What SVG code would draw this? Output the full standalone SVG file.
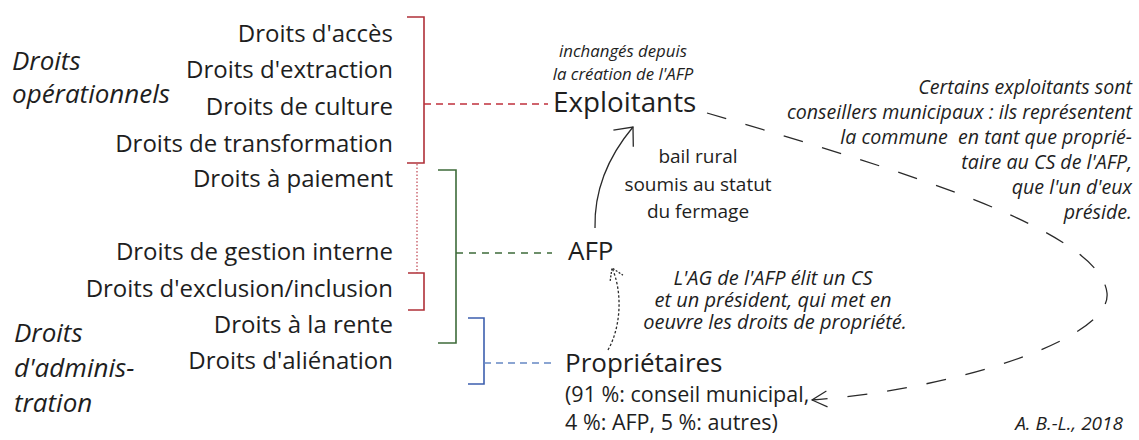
<svg xmlns="http://www.w3.org/2000/svg" width="1139" height="440" viewBox="0 0 1139 440">
<style>
text{font-family:"Open Sans","Noto Sans","Liberation Sans",sans-serif;fill:#1e1e1e}
.r{font-size:24px;text-anchor:end}
.cat{font-size:26px;font-style:italic}
.node{font-size:26px}
.note{font-style:italic;font-size:19.6px}
.mid{text-anchor:middle}
.end{text-anchor:end}
.brR{fill:none;stroke:#b03038;stroke-width:1.6}
.brG{fill:none;stroke:#3e6b3a;stroke-width:1.6}
.brB{fill:none;stroke:#3d5fae;stroke-width:1.6}
.arrow{fill:none;stroke:#2a2a2a;stroke-width:1.3}
</style>
<defs>
<marker id="vSolid" viewBox="-20 -16 24 32" refX="0" refY="0" markerWidth="24" markerHeight="32" orient="auto" markerUnits="userSpaceOnUse">
<path d="M-15,-13 L0,0 L-15,13" fill="none" stroke="#2a2a2a" stroke-width="1.3"/>
</marker>
<marker id="vDot" viewBox="-16 -12 20 24" refX="0" refY="0" markerWidth="20" markerHeight="24" orient="auto" markerUnits="userSpaceOnUse">
<path d="M-11,-7 L0,0 L-11,7" fill="none" stroke="#2a2a2a" stroke-width="1.3" stroke-dasharray="2 1.5"/>
</marker>
<marker id="vDash" viewBox="-20 -12 24 24" refX="0" refY="0" markerWidth="24" markerHeight="24" orient="auto" markerUnits="userSpaceOnUse">
<path d="M-15,-8 L0,0 L-15,8" fill="none" stroke="#2a2a2a" stroke-width="1.2"/>
</marker>
</defs>
<rect width="1139" height="440" fill="#ffffff"/>

<g id="categories">
<text class="cat" x="12" y="70">Droits</text>
<text class="cat" x="12" y="103">opérationnels</text>
<text class="cat" x="14" y="342">Droits</text>
<text class="cat" x="14" y="377">d'adminis-</text>
<text class="cat" x="14" y="412">tration</text>
</g>

<g id="rights">
<text class="r" x="393" y="42">Droits d'accès</text>
<text class="r" x="393" y="78">Droits d'extraction</text>
<text class="r" x="393" y="115">Droits de culture</text>
<text class="r" x="393" y="152">Droits de transformation</text>
<text class="r" x="393" y="187">Droits à paiement</text>
<text class="r" x="393" y="260">Droits de gestion interne</text>
<text class="r" x="393" y="297">Droits d'exclusion/inclusion</text>
<text class="r" x="393" y="333">Droits à la rente</text>
<text class="r" x="393" y="369">Droits d'aliénation</text>
</g>

<g id="exploitants">
<text class="note mid" x="623" y="57" style="font-size:16.8px">inchangés depuis</text>
<text class="note mid" x="623" y="80" style="font-size:16.8px">la création de l'AFP</text>
<text class="node" x="553" y="112" style="font-size:27.8px">Exploitants</text>
</g>

<g id="afp">
<text class="node" x="568" y="260">AFP</text>
</g>

<g id="proprietaires">
<text class="node" x="565" y="372">Propriétaires</text>
<text x="565" y="402" style="font-size:21.5px">(91 %: conseil municipal,</text>
<text x="565" y="430" style="font-size:21.5px">4 %: AFP, 5 %: autres)</text>
</g>

<g id="bail">
<text class="mid" x="698" y="163" style="font-size:19px">bail rural</text>
<text class="mid" x="698" y="191" style="font-size:19px">soumis au statut</text>
<text class="mid" x="698" y="218" style="font-size:19px">du fermage</text>
</g>

<g id="ag-note">
<text class="note mid" x="773" y="285" style="font-size:20px">L'AG de l'AFP élit un CS</text>
<text class="note mid" x="773" y="307" style="font-size:20px">et un président, qui met en</text>
<text class="note mid" x="775" y="329" style="font-size:20px">oeuvre les droits de propriété.</text>
</g>

<g id="conseillers-note">
<text class="note end" x="1132" y="94">Certains exploitants sont</text>
<text class="note end" x="1132" y="119">conseillers municipaux : ils représentent</text>
<text class="note end" x="1132" y="144" xml:space="preserve">la commune  en tant que proprié-</text>
<text class="note end" x="1132" y="169">taire au CS de l'AFP,</text>
<text class="note end" x="1132" y="194">que l'un d'eux</text>
<text class="note end" x="1132" y="219">préside.</text>
</g>

<g id="credit">
<text class="note end" x="1123" y="430" style="font-size:19px">A. B.-L., 2018</text>
</g>

<g id="connectors">
<path class="brR" d="M407,17 H424 V163 H407"/>
<line x1="424" y1="104" x2="548" y2="104" stroke="#c0303c" stroke-width="1.4" stroke-dasharray="7 5"/>
<line x1="417" y1="164" x2="417" y2="273" stroke="#c8606a" stroke-width="1.4" stroke-dasharray="1.5 2"/>
<path class="brR" d="M408,273 H424 V310 H408"/>
<path class="brG" d="M438,170 H456 V343 H438"/>
<line x1="456" y1="253" x2="552" y2="253" stroke="#3e6b3a" stroke-width="1.4" stroke-dasharray="7 6"/>
<path class="brB" d="M468,318 H484 V384 H468"/>
<line x1="484" y1="363" x2="552" y2="363" stroke="#6688c4" stroke-width="1.4" stroke-dasharray="7 5"/>
<path class="arrow" d="M595,228 C594,186 612,152 633,127" marker-end="url(#vSolid)"/>
<path class="arrow" d="M608,350 C622,325 622,290 612,268" stroke-dasharray="2.5 2" marker-end="url(#vDot)"/>
<path class="arrow" d="M707,113 C900,170 1100,230 1107,293 C1112,340 950,390 812,400" stroke-width="1.2" stroke-dasharray="20 20" marker-end="url(#vDash)"/>
</g>
</svg>
